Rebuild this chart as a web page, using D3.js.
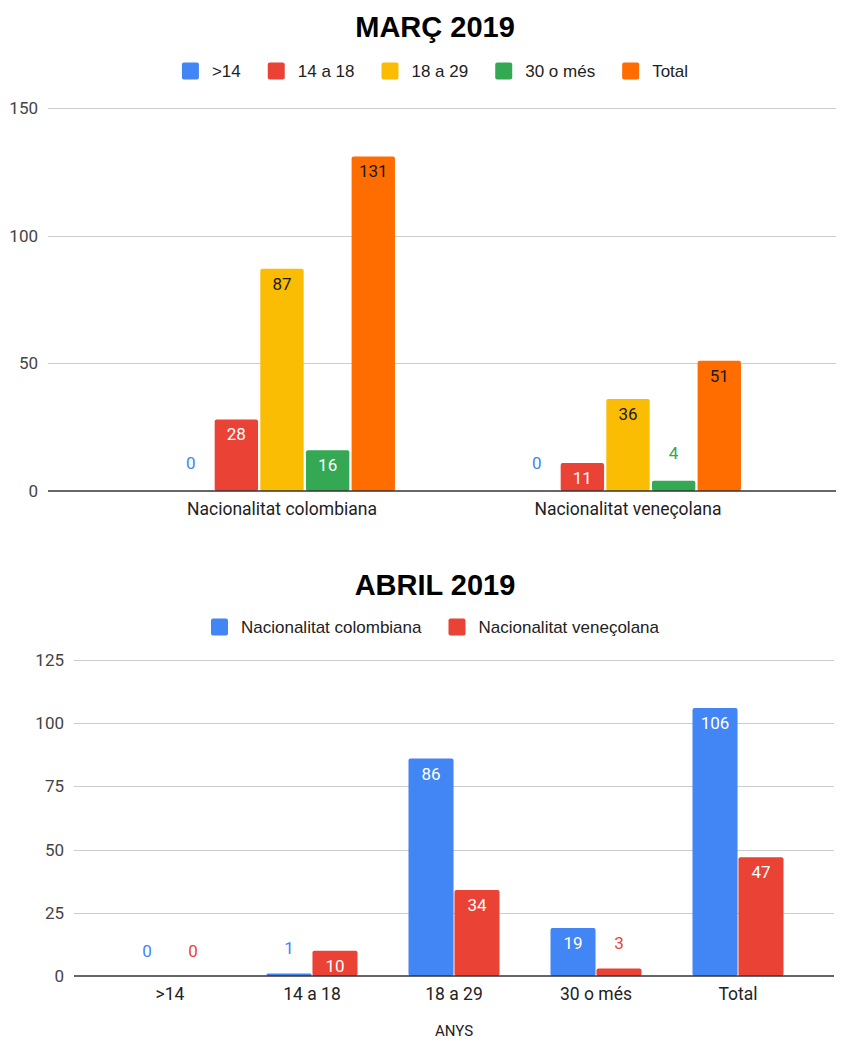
<html>
<head>
<meta charset="utf-8">
<style>
  body { margin: 0; background: #fff; }
  .title { font-family: "Liberation Sans", Arial, sans-serif; font-weight: bold; font-size: 29px; fill: #000; }
  .legend text { font-family: "Liberation Sans", Arial, sans-serif; font-size: 17px; fill: #222; }
  .tick-label { font-family: Roboto, sans-serif; font-size: 17px; fill: #444; }
  .cat-label { font-family: Roboto, sans-serif; font-size: 17.5px; fill: #222; }
  .val { font-family: Roboto, sans-serif; font-size: 17px; }
  .grid { stroke: #ccc; stroke-width: 1; }
  .base { stroke: #333; stroke-width: 1.5; }
</style>
</head>
<body>
<script src="https://d3js.org/d3.v7.min.js"></script>
<svg id="chart" width="852" height="1041"></svg>
<script>
// ---- data ----
var ageGroups = [">14", "14 a 18", "18 a 29", "30 o més", "Total"];
var nationalities = ["Nacionalitat colombiana", "Nacionalitat veneçolana"];

// March: values per nationality, one per age group
var marchColombiana = [0, 28, 87, 16, 131];
var marchVenecolana = [0, 11, 36, 4, 51];

// April: values per age group, one per nationality
var aprilColombiana = [0, 1, 86, 19, 106];
var aprilVenecolana = [0, 10, 34, 3, 47];

var marchTicks = [0, 50, 100, 150];
var aprilTicks = [0, 25, 50, 75, 100, 125];

var ageColors = ["#4285F4", "#EA4335", "#FBBC04", "#34A853", "#FF6D01"];
var natColors = ["#4285F4", "#EA4335"];
var darkText = {"#FBBC04": true, "#FF6D01": true};

var svg = d3.select("#chart");

function drawLegend(cy, names, colors) {
  var lg = svg.append("g").attr("class", "legend");
  var x = 0;
  names.forEach(function(n, i) {
    var item = lg.append("g").attr("transform", "translate(" + x + ",0)");
    item.append("rect").attr("x", 0).attr("y", cy - 8.5).attr("width", 17).attr("height", 17)
      .attr("rx", 2).attr("fill", colors[i]);
    var t = item.append("text").attr("x", 30).attr("y", cy).attr("dy", "0.35em").text(n);
    x += 30 + t.node().getComputedTextLength() + 27;
  });
  var w = x - 27;
  lg.attr("transform", "translate(" + (435 - w / 2) + ",0)");
}

function drawChart(opt) {
  var g = svg.append("g");

  svg.append("text").attr("class", "title")
    .attr("x", 435).attr("y", opt.titleY).attr("text-anchor", "middle")
    .text(opt.title);

  drawLegend(opt.legendY, opt.series, opt.colors);

  var y = d3.scaleLinear().domain([0, opt.max]).range([opt.bottom, opt.top]);

  var x0 = d3.scaleBand().domain(opt.cats).range(opt.xRange)
    .paddingInner(opt.pad).paddingOuter(opt.pad / 2);
  var x1 = d3.scaleBand().domain(opt.series).range([0, x0.bandwidth()])
    .paddingInner(opt.innerPad).paddingOuter(0);

  // gridlines
  g.selectAll(".grid").data(opt.ticks.filter(function(d) { return d > 0; }))
    .enter().append("line").attr("class", "grid")
    .attr("x1", opt.gridLeft).attr("x2", opt.gridRight)
    .attr("y1", function(d) { return Math.round(y(d)) + 0.5; })
    .attr("y2", function(d) { return Math.round(y(d)) + 0.5; });

  g.selectAll(".tick-label").data(opt.ticks)
    .enter().append("text").attr("class", "tick-label")
    .attr("x", opt.gridLeft - 10).attr("y", function(d) { return y(d); })
    .attr("dy", "0.35em").attr("text-anchor", "end")
    .text(function(d) { return d; });

  // bars
  var rows = [];
  opt.cats.forEach(function(c, ci) {
    opt.series.forEach(function(s, si) {
      rows.push({cat: c, ser: s, si: si, v: opt.value(ci, si)});
    });
  });

  var bars = g.selectAll(".bar").data(rows).enter().append("g");

  bars.append("rect")
    .attr("x", function(d) { return x0(d.cat) + x1(d.ser); })
    .attr("y", function(d) { return y(d.v); })
    .attr("width", x1.bandwidth())
    .attr("height", function(d) { return y(0) - y(d.v); })
    .attr("rx", 2)
    .attr("fill", function(d) { return opt.colors[d.si]; });

  bars.append("text").attr("class", "val")
    .attr("text-anchor", "middle")
    .attr("x", function(d) { return x0(d.cat) + x1(d.ser) + x1.bandwidth() / 2; })
    .attr("y", function(d) {
      var h = y(0) - y(d.v);
      return h >= 22 ? y(d.v) + 15 : y(d.v) - opt.outside;
    })
    .attr("dy", "0.35em")
    .style("font-size", opt.valSize + "px")
    .attr("fill", function(d) {
      var c = opt.colors[d.si];
      var h = y(0) - y(d.v);
      if (h < 22) return c;
      return darkText[c] ? "#1a1a1a" : "#fff";
    })
    .text(function(d) { return d.v; });

  // baseline
  g.append("line").attr("class", "base")
    .attr("x1", opt.gridLeft).attr("x2", opt.gridRight)
    .attr("y1", y(0)).attr("y2", y(0));

  // category labels
  g.selectAll(".cat-label").data(opt.cats)
    .enter().append("text").attr("class", "cat-label")
    .attr("x", function(d) { return x0(d) + x0.bandwidth() / 2; })
    .attr("y", opt.bottom + 18).attr("dy", "0.35em")
    .attr("text-anchor", "middle")
    .text(function(d) { return d; });

  if (opt.axisTitle) {
    svg.append("text").attr("class", "cat-label")
      .attr("x", (opt.xRange[0] + opt.xRange[1]) / 2).attr("y", opt.axisTitleY)
      .attr("text-anchor", "middle").style("font-size", "15px")
      .text(opt.axisTitle);
  }
}

drawChart({
  title: "MARÇ 2019", titleY: 37, legendY: 71,
  cats: nationalities, series: ageGroups, colors: ageColors,
  value: function(ci, si) { return ci === 0 ? marchColombiana[si] : marchVenecolana[si]; },
  max: 150, ticks: marchTicks, top: 108, bottom: 491,
  xRange: [109, 801], pad: 0.347, innerPad: 0.05,
  gridLeft: 48, gridRight: 836, outside: 28, valSize: 17
});

drawChart({
  title: "ABRIL 2019", titleY: 595, legendY: 627,
  cats: ageGroups, series: nationalities, colors: natColors,
  value: function(ci, si) { return si === 0 ? aprilColombiana[ci] : aprilVenecolana[ci]; },
  max: 125, ticks: aprilTicks, top: 660, bottom: 976,
  xRange: [99, 809], pad: 0.359, innerPad: 0.02,
  gridLeft: 74, gridRight: 834, outside: 25, valSize: 17,
  axisTitle: "ANYS", axisTitleY: 1036
});
</script>
</body>
</html>
